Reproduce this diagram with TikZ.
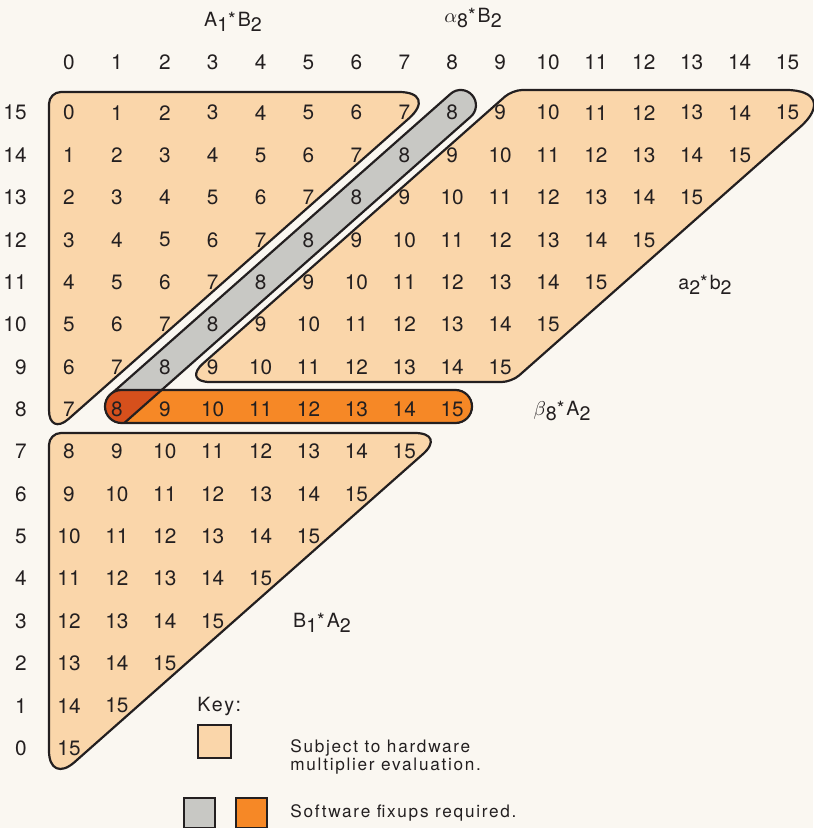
\documentclass[tikz,border=0pt]{standalone}
\usepackage{fontspec}
\setmainfont{TeX Gyre Heros}
\newfontfamily\keyfont[LetterSpace=10]{TeX Gyre Heros}

\definecolor{paper}{RGB}{250,247,241}
\definecolor{peach}{RGB}{250,214,170}
\definecolor{fixgray}{RGB}{200,200,196}
\definecolor{fixorange}{RGB}{246,136,38}
\definecolor{fixred}{RGB}{214,80,28}
\definecolor{ink}{RGB}{35,31,32}

\newcommand{\lo}[1]{\raisebox{-2.8pt}{#1}}

\begin{document}
\begin{tikzpicture}[x=0.5pt, y=-0.5pt,
    region/.style={draw=ink, line width=1.1pt, line join=round},
    cellnum/.style={font=\fontsize{10.4}{12}\selectfont, text=ink, inner sep=0pt},
    tag/.style={font=\keyfont\fontsize{9.8}{10}\selectfont, text=ink, inner sep=0pt},
    keytext/.style={font=\keyfont\fontsize{8.6}{8.8}\selectfont, text=ink,
                    inner sep=0pt, anchor=west, align=left},
    keybox/.style={draw=ink, line width=1pt, inner sep=0pt, anchor=north west}
  ]
    \fill[paper] (0,0) rectangle (813,828);
    \useasboundingbox (0,0) rectangle (813,828);

    %% --- hardware regions ---
    % A1*B2
    \filldraw[region, fill=peach] (49,300)
      [rounded corners=6pt] -- (49,92)
      [rounded corners=20pt] -- (438.8,92)
      [rounded corners=13pt] -- (49,436.2) -- cycle;
    % a2*b2
    \filldraw[region, fill=peach] (680,90)
      [rounded corners=28pt] -- (842,90)
      [rounded corners=5pt] -- (511.7,382)
      [rounded corners=14pt] -- (182.1,382)
      [rounded corners=5pt] -- (512.4,90) -- cycle;
    % B1*A2
    \filldraw[region, fill=peach] (49,600)
      [rounded corners=6pt] -- (49,433)
      [rounded corners=16pt] -- (446.8,433)
      [rounded corners=17pt] -- (49,784.7) -- cycle;

    %% --- software fixups ---
    % alpha8*B2
    \begin{scope}
      \clip (0,0) rectangle (813,392);
      \filldraw[region, fill=fixgray, rounded corners=7.6pt]
        (59.1,440) -- (462.0,83.73) -- (482.2,106.55) -- (105.1,440) -- cycle;
    \end{scope}
    % beta8*A2
    \fill[fixorange, rounded corners=8.25pt] (105,390) rectangle (472,423);
    \begin{scope}
      \clip (0,380) -- (172.9,380) -- (113.0,433) -- (0,433) -- cycle;
      \fill[fixred, rounded corners=8.25pt] (105,390) rectangle (472,423);
    \end{scope}
    \draw[region] (161.6,390) -- (124.3,423);
    \draw[region, rounded corners=8.25pt] (105,390) rectangle (472,423);

    %% --- products ---
    \foreach \r in {0,...,15} {
      \node[cellnum, anchor=east] (row-\r) at (27,{748-42.35*\r}) {\r};
      \foreach \c in {0,...,\r} {
        \pgfmathtruncatemacro\v{\c+15-\r}
        \node[cellnum] (v-\c-\r) at ({69+47.9*\c},{748-42.35*\r}) {\v};
      }
    }
    \foreach \c in {0,...,15}
      \node[cellnum] (col-\c) at ({69+47.9*\c},62) {\c};

    %% --- region labels ---
    \node[tag] (lab-ab) at (233,22) {A\lo{1}*B\lo{2}};
    \node[tag] (lab-alpha) at (473,18) {$\alpha$\lo{8}*B\lo{2}};
    \node[tag] (lab-low) at (705,285) {a\lo{2}*b\lo{2}};
    \node[tag] (lab-beta) at (562,411) {$\beta$\lo{8}*A\lo{2}};
    \node[tag] (lab-ba) at (322,623) {B\lo{1}*A\lo{2}};

    %% --- key ---
    \node[tag, anchor=west] (key) at (197,706) {Key:};
    \node[keybox, fill=peach, minimum size=16.5pt] (key-hw) at (197,724) {};
    \node[keytext] (key-hw-text) at (290,757) {Subject to hardware\\multiplier evaluation.};
    \node[keybox, fill=fixgray, minimum width=15.5pt, minimum height=15pt] (key-sw-a) at (183,797) {};
    \node[keybox, fill=fixorange, minimum width=15.5pt, minimum height=15pt] (key-sw-b) at (235,797) {};
    \node[keytext] (key-sw-text) at (290,813) {Software fixups required.};
\end{tikzpicture}
\end{document}
